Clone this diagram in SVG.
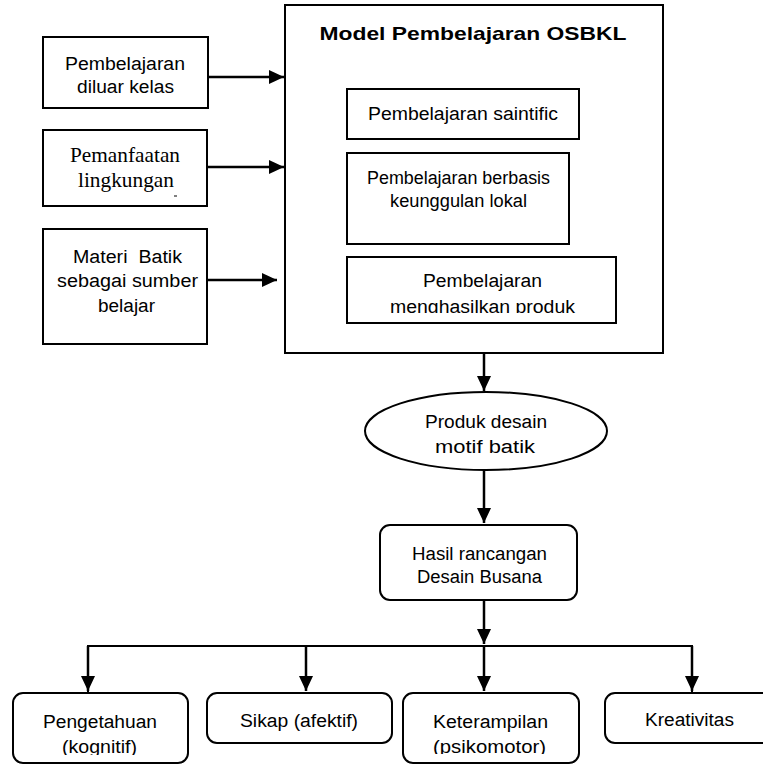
<svg xmlns="http://www.w3.org/2000/svg" width="763" height="765" viewBox="0 0 763 765">
<style>
.box{fill:#fff;stroke:#000;stroke-width:2}
.t{font-family:"Liberation Sans",Arial,sans-serif;font-size:18px;fill:#000;text-anchor:middle}
.s{font-family:"Liberation Serif","Times New Roman",serif;font-size:21px;fill:#000;text-anchor:middle}
.title{font-family:"Liberation Sans",Arial,sans-serif;font-size:18.5px;font-weight:bold;fill:#000;text-anchor:middle}
.c{fill:none;stroke:#000;stroke-width:2.5}
.thin{fill:none;stroke:#000;stroke-width:2}
</style>
<defs>
<marker id="ah" viewBox="0 0 15 14" refX="15" refY="7" markerWidth="15" markerHeight="14" markerUnits="userSpaceOnUse" orient="auto">
<path d="M0,0 L15,7 L0,14 Z" fill="#000"/>
</marker>
<clipPath id="clipL2"><rect x="43" y="130" width="164" height="65"/></clipPath>
<clipPath id="clipM3"><rect x="347" y="257" width="269" height="56"/></clipPath>
<clipPath id="clipB1"><rect x="13" y="693" width="175" height="62"/></clipPath>
<clipPath id="clipB3"><rect x="403" y="693" width="176" height="61"/></clipPath>
</defs>
<rect width="763" height="765" fill="#fff"/>

<g id="main">
<rect class="box" x="285" y="5" width="378" height="348"/>
<text class="title" x="473" y="40" textLength="307" lengthAdjust="spacingAndGlyphs">Model Pembelajaran OSBKL</text>
</g>
<g id="saintific">
<rect class="box" x="347" y="89" width="232" height="50"/>
<text class="t" x="463" y="120" textLength="190" lengthAdjust="spacingAndGlyphs">Pembelajaran saintific</text>
</g>
<g id="berbasis">
<rect class="box" x="347" y="153" width="222" height="91"/>
<text class="t" x="458.5" y="184" textLength="183" lengthAdjust="spacingAndGlyphs">Pembelajaran berbasis</text>
<text class="t" x="458.5" y="207" textLength="137" lengthAdjust="spacingAndGlyphs">keunggulan lokal</text>
</g>
<g id="produk-box">
<rect class="box" x="347" y="257" width="269" height="66"/>
<g clip-path="url(#clipM3)">
<text class="t" x="482.5" y="287" textLength="119" lengthAdjust="spacingAndGlyphs">Pembelajaran</text>
<text class="t" x="482.5" y="313" textLength="185" lengthAdjust="spacingAndGlyphs">menghasilkan produk</text>
</g>
</g>

<g id="luar">
<rect class="box" x="43" y="37" width="165" height="71"/>
<text class="t" x="125" y="70" textLength="120" lengthAdjust="spacingAndGlyphs">Pembelajaran</text>
<text class="t" x="125.5" y="93" textLength="97" lengthAdjust="spacingAndGlyphs">diluar kelas</text>
</g>
<g id="lingkungan">
<rect class="box" x="43" y="130" width="164" height="76"/>
<g clip-path="url(#clipL2)">
<text class="s" x="125" y="162" textLength="110" lengthAdjust="spacingAndGlyphs">Pemanfaatan</text>
<text class="s" x="126" y="187" textLength="96" lengthAdjust="spacingAndGlyphs">lingkungan</text>
</g>
<line x1="174" y1="196" x2="177" y2="196" stroke="#000" stroke-width="1"/>
</g>
<g id="batik">
<rect class="box" x="43" y="229" width="164" height="115"/>
<text class="t" x="127.5" y="263" textLength="109" lengthAdjust="spacingAndGlyphs" xml:space="preserve">Materi  Batik</text>
<text class="t" x="127.5" y="287" textLength="141" lengthAdjust="spacingAndGlyphs">sebagai sumber</text>
<text class="t" x="126.5" y="312" textLength="57" lengthAdjust="spacingAndGlyphs">belajar</text>
</g>

<g id="motif">
<ellipse class="box" cx="486" cy="431" rx="121" ry="39"/>
<text class="t" x="486" y="428" textLength="122" lengthAdjust="spacingAndGlyphs">Produk desain</text>
<text class="t" x="485" y="453" textLength="100" lengthAdjust="spacingAndGlyphs">motif batik</text>
</g>
<g id="hasil">
<rect class="box" x="380" y="525" width="197" height="75" rx="10"/>
<text class="t" x="479.5" y="560" textLength="135" lengthAdjust="spacingAndGlyphs">Hasil rancangan</text>
<text class="t" x="479.5" y="583" textLength="125" lengthAdjust="spacingAndGlyphs">Desain Busana</text>
</g>

<g id="pengetahuan">
<rect class="box" x="13" y="693" width="175" height="70" rx="10"/>
<g clip-path="url(#clipB1)">
<text class="t" x="100" y="728" textLength="114" lengthAdjust="spacingAndGlyphs">Pengetahuan</text>
<text class="t" x="99.5" y="753" textLength="75" lengthAdjust="spacingAndGlyphs">(kognitif)</text>
</g>
</g>
<g id="sikap">
<rect class="box" x="207" y="693" width="185" height="50" rx="10"/>
<text class="t" x="299" y="727" textLength="118" lengthAdjust="spacingAndGlyphs">Sikap (afektif)</text>
</g>
<g id="keterampilan">
<rect class="box" x="403" y="693" width="176" height="70" rx="10"/>
<g clip-path="url(#clipB3)">
<text class="t" x="490.5" y="728" textLength="115" lengthAdjust="spacingAndGlyphs">Keterampilan</text>
<text class="t" x="489.5" y="753" textLength="113" lengthAdjust="spacingAndGlyphs">(psikomotor)</text>
</g>
</g>
<g id="kreativitas">
<rect class="box" x="605" y="693" width="175" height="50" rx="10"/>
<text class="t" x="689.5" y="726" textLength="89" lengthAdjust="spacingAndGlyphs">Kreativitas</text>
</g>

<g id="connectors">
<line class="c" x1="208" y1="77" x2="284" y2="77" marker-end="url(#ah)"/>
<line class="c" x1="207" y1="167" x2="284" y2="167" marker-end="url(#ah)"/>
<line class="c" x1="207" y1="280" x2="277" y2="280" marker-end="url(#ah)"/>
<line class="c" x1="484" y1="353" x2="484" y2="391" marker-end="url(#ah)"/>
<line class="c" x1="484" y1="470" x2="484" y2="523" marker-end="url(#ah)"/>
<line class="c" x1="484" y1="600" x2="484" y2="644" marker-end="url(#ah)"/>
<polyline class="thin" points="88,692 88,646 692,646 692,692"/>
<line class="c" x1="88" y1="646" x2="88" y2="691" marker-end="url(#ah)"/>
<line class="c" x1="306" y1="646" x2="306" y2="691" marker-end="url(#ah)"/>
<line class="c" x1="484" y1="646" x2="484" y2="691" marker-end="url(#ah)"/>
<line class="c" x1="692" y1="646" x2="692" y2="691" marker-end="url(#ah)"/>
</g>
</svg>
